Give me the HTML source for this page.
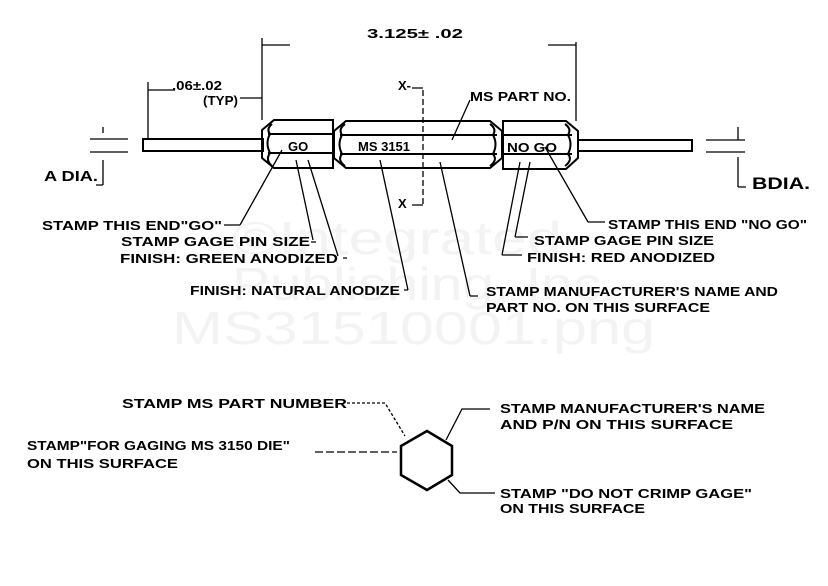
<!DOCTYPE html>
<html><head><meta charset="utf-8"><style>
html,body{margin:0;padding:0;background:#fff;}
svg{display:block;}
text{font-family:"Liberation Sans",sans-serif;font-weight:bold;font-size:13px;fill:#000;}
.wm{font-weight:normal;font-size:46px;fill:#f3f3f3;}
</style></head><body>
<svg width="828" height="586" viewBox="0 0 828 586" xmlns="http://www.w3.org/2000/svg">
<text class="wm" x="232" y="254" textLength="330" lengthAdjust="spacingAndGlyphs">©Integrated</text>
<text class="wm" x="232" y="300" textLength="385" lengthAdjust="spacingAndGlyphs">Publishing, Inc.</text>
<text class="wm" x="172" y="344" textLength="483" lengthAdjust="spacingAndGlyphs">MS31510001.png</text>
<g fill="none" stroke="#000" stroke-width="2">
<rect x="143" y="139" width="120" height="12"/>
<rect x="578" y="140" width="114" height="11"/>
<path d="M274 120 H333 V168 H274 L262 158 V130 Z"/>
<path d="M268 134 H333 M268 153 H333"/>
<path d="M272 124 Q266 129 270 134 Q265 143 270 153 Q265 160 272 166"/>
<path d="M346 121 H490 L502 131 V158 L490 168 H346 L334 158 V131 Z"/>
<path d="M340 135 H497 M340 154 H497"/>
<path d="M345 124 Q338 129 342 135 Q337 144 342 154 Q337 160 345 166"/>
<path d="M490 124 Q497 129 493 135 Q498 144 493 154 Q498 160 490 166"/>
<path d="M503 121 H566 L578 131 V158 L566 169 H503 Z"/>
<path d="M503 135 H572 M503 154 H572"/>
<path d="M565 124 Q572 129 568 135 Q573 144 568 154 Q573 160 565 166"/>
</g>
<g fill="none" stroke="#000" stroke-width="1.3">
<path d="M262 38 V120 M576 42 V121 M262 45 H290 M576 45 H548"/>
<path d="M148 82 V139 M148 90 H175 M262 98 H240"/>
<path d="M103 127 V133 M90 139 H128 M90 152 H128 M103 160 V185 M96 185 H103"/>
<path d="M738 127 V140 M706 140 H745 M706 152 H745 M738 157 V187 M738 187 H746"/>
<path d="M423 90 V205" stroke-dasharray="6 3"/>
<path d="M412 88 H423 M412 205 H423"/>
<path d="M470 100 L452 140"/>
<path d="M282 150 L240 225 M224 225 H240"/>
<path d="M296 160 L313 240 M311 242 H316"/>
<path d="M308 160 L338 256 M343 258 H347"/>
<path d="M380 160 L408 290 M404 290 H408"/>
<path d="M440 162 L470 296 M470 296 H478"/>
<path d="M520 162 L502 255 M502 255 H522"/>
<path d="M530 162 L515 237 M515 237 H528"/>
<path d="M545 147 L588 222 M588 222 H605"/>
<path d="M347 403 H385 L405 436" stroke-dasharray="3 2"/>
<path d="M490 409 H462 L446 440"/>
<path d="M315 452 H397" stroke-dasharray="8 3"/>
<path d="M495 493 H460 L448 480"/>
</g>
<polygon points="427,431 452,446 452,475 427,490 401,475 401,446" fill="none" stroke="#000" stroke-width="2.5"/>
<text x="367" y="38" textLength="96" lengthAdjust="spacingAndGlyphs">3.125± .02</text>
<text x="172" y="90" textLength="50" lengthAdjust="spacingAndGlyphs">.06±.02</text>
<text x="203" y="105" textLength="35" lengthAdjust="spacingAndGlyphs">(TYP)</text>
<text x="398" y="90">X-</text>
<text x="398" y="208">X</text>
<text x="470" y="101" textLength="101" lengthAdjust="spacingAndGlyphs">MS PART NO.</text>
<text x="288" y="151">GO</text>
<text x="358" y="151" textLength="52" lengthAdjust="spacingAndGlyphs">MS 3151</text>
<text x="507" y="152" textLength="50" lengthAdjust="spacingAndGlyphs">NO GO</text>
<text x="44" y="181" style="font-size:15px" textLength="54" lengthAdjust="spacingAndGlyphs">A DIA.</text>
<text x="752" y="189" style="font-size:17px" textLength="58" lengthAdjust="spacingAndGlyphs">BDIA.</text>
<text x="42" y="230" textLength="180" lengthAdjust="spacingAndGlyphs">STAMP THIS END"GO"</text>
<text x="121" y="246" textLength="189" lengthAdjust="spacingAndGlyphs">STAMP GAGE PIN SIZE</text>
<text x="120" y="263" textLength="218" lengthAdjust="spacingAndGlyphs">FINISH: GREEN ANODIZED</text>
<text x="190" y="295" textLength="210" lengthAdjust="spacingAndGlyphs">FINISH: NATURAL ANODIZE</text>
<text x="486" y="296" textLength="292" lengthAdjust="spacingAndGlyphs">STAMP MANUFACTURER'S NAME AND</text>
<text x="486" y="312" textLength="224" lengthAdjust="spacingAndGlyphs">PART NO. ON THIS SURFACE</text>
<text x="608" y="229" textLength="199" lengthAdjust="spacingAndGlyphs">STAMP THIS END "NO GO"</text>
<text x="534" y="245" textLength="180" lengthAdjust="spacingAndGlyphs">STAMP GAGE PIN SIZE</text>
<text x="527" y="262" textLength="188" lengthAdjust="spacingAndGlyphs">FINISH: RED ANODIZED</text>
<text x="122" y="408" textLength="225" lengthAdjust="spacingAndGlyphs">STAMP MS PART NUMBER</text>
<text x="27" y="450" textLength="263" lengthAdjust="spacingAndGlyphs">STAMP"FOR GAGING MS 3150 DIE"</text>
<text x="27" y="468" textLength="151" lengthAdjust="spacingAndGlyphs">ON THIS SURFACE</text>
<text x="500" y="413" textLength="265" lengthAdjust="spacingAndGlyphs">STAMP MANUFACTURER'S NAME</text>
<text x="500" y="429" textLength="233" lengthAdjust="spacingAndGlyphs">AND P/N ON THIS SURFACE</text>
<text x="500" y="498" textLength="252" lengthAdjust="spacingAndGlyphs">STAMP "DO NOT CRIMP GAGE"</text>
<text x="500" y="513" textLength="145" lengthAdjust="spacingAndGlyphs">ON THIS SURFACE</text>
</svg>
</body></html>
